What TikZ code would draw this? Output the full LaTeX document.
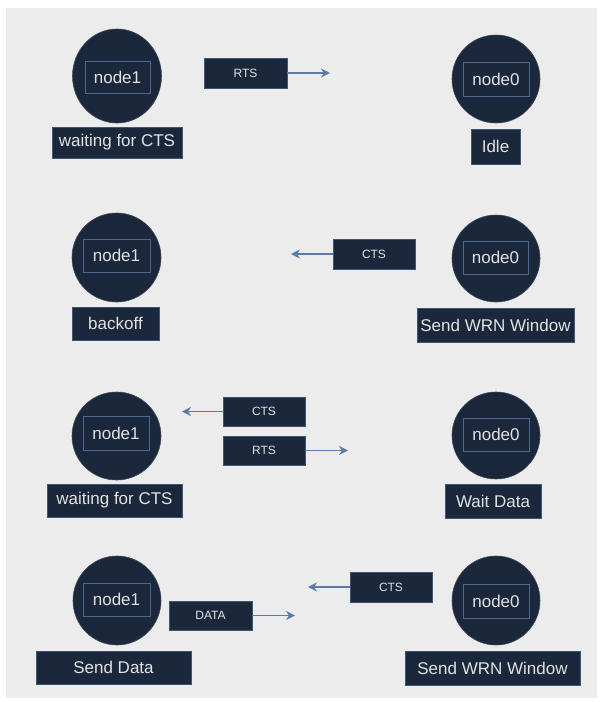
\documentclass[tikz,border=0pt]{standalone}
\usepackage{fontspec}
\setmainfont{Liberation Sans}
\usetikzlibrary{shapes.geometric,arrows.meta}

\definecolor{navy}{HTML}{1B283C}
\definecolor{navyedge}{HTML}{3E5677}
\definecolor{tagedge}{HTML}{4D6A8E}
\definecolor{arrowblue}{HTML}{5A7BA6}
\definecolor{paper}{HTML}{ECECEC}
\definecolor{ink}{HTML}{E2E2E2}

\tikzset{
  bubble/.style={ellipse, fill=navy, draw=navy!85!white, line width=0.6pt, inner sep=0pt},
  tag/.style={rectangle, draw=tagedge, line width=1pt, inner sep=0pt, text=ink,
              font=\fontsize{17}{20}\selectfont},
  statebox/.style={rectangle, fill=navy, draw=navyedge, line width=0.8pt, inner sep=0pt,
                   text=ink, font=\fontsize{17}{20}\selectfont},
  msgbox/.style={rectangle, fill=navy, draw=navyedge, line width=0.8pt, inner sep=0pt,
                 text=ink, font=\fontsize{12}{14}\selectfont},
  arr/.style={draw=arrowblue, line width=1.4pt, -{Stealth[length=9pt,width=9pt]}}
}

\begin{document}
\begin{tikzpicture}[x=1pt,y=-1pt]
\useasboundingbox (0,0) rectangle (601,702);
\fill[paper] (6,8) rectangle (597,698);

% ---- step 1: RTS from node1 to idle node0
\node[bubble, minimum width=89, minimum height=94] (c1a) at (117,76) {};
\node[tag, minimum width=65, minimum height=32] (i1a) at (117.5,77) {node1};
\node[statebox, minimum width=130, minimum height=31] (l1a) at (117,142.5) {waiting for CTS};
\node[msgbox, minimum width=83, minimum height=30] (rts1) at (245.5,73) {RTS};
\coordinate (rts1tip) at (330,73);
\draw[arr] (rts1.east) -- (rts1tip);
\node[bubble, minimum width=88, minimum height=88] (c0a) at (496,79) {};
\node[tag, minimum width=66, minimum height=34] (i0a) at (496,79) {node0};
\node[statebox, minimum width=49, minimum height=35] (l0a) at (495.5,146.5) {Idle};

% ---- step 2: CTS back, node1 backs off
\node[bubble, minimum width=89, minimum height=89] (c1b) at (116.5,257.5) {};
\node[tag, minimum width=67, minimum height=33] (i1b) at (116.5,255.5) {node1};
\node[statebox, minimum width=87, minimum height=33] (l1b) at (115.5,323.5) {backoff};
\node[msgbox, minimum width=82, minimum height=30] (cts2) at (374,254) {CTS};
\coordinate (cts2tip) at (291,254);
\draw[arr] (cts2.west) -- (cts2tip);
\node[bubble, minimum width=88, minimum height=87] (c0b) at (496,258.5) {};
\node[tag, minimum width=65, minimum height=33] (i0b) at (495.5,257.5) {node0};
\node[statebox, minimum width=157, minimum height=34] (l0b) at (495.5,325) {Send WRN Window};

% ---- step 3: CTS and RTS exchanged
\node[bubble, minimum width=89, minimum height=88] (c1c) at (116.5,436) {};
\node[tag, minimum width=66, minimum height=34] (i1c) at (116,433) {node1};
\node[statebox, minimum width=135, minimum height=33] (l1c) at (114.5,500.5) {waiting for CTS};
\node[msgbox, minimum width=82, minimum height=29] (cts3) at (264,411.5) {CTS};
\coordinate (cts3tip) at (182,411.5);
\draw[arr] (cts3.west) -- (cts3tip);
\node[msgbox, minimum width=82, minimum height=29] (rts3) at (264,450.5) {RTS};
\coordinate (rts3tip) at (348,450.5);
\draw[arr] (rts3.east) -- (rts3tip);
\node[bubble, minimum width=88, minimum height=87] (c0c) at (496,435.5) {};
\node[tag, minimum width=66, minimum height=33] (i0c) at (496,434.5) {node0};
\node[statebox, minimum width=96, minimum height=34] (l0c) at (493,501) {Wait Data};

% ---- step 4: DATA sent while CTS window is announced
\node[bubble, minimum width=88, minimum height=89] (c1d) at (117,600.5) {};
\node[tag, minimum width=67, minimum height=33] (i1d) at (116.5,599.5) {node1};
\node[statebox, minimum width=155, minimum height=33] (l1d) at (113.5,667.5) {Send Data};
\node[msgbox, minimum width=83, minimum height=29] (data4) at (210.5,615.5) {DATA};
\coordinate (data4tip) at (295,615.5);
\draw[arr] (data4.east) -- (data4tip);
\node[msgbox, minimum width=82, minimum height=30] (cts4) at (391,587) {CTS};
\coordinate (cts4tip) at (308,587);
\draw[arr] (cts4.west) -- (cts4tip);
\node[bubble, minimum width=88, minimum height=89] (c0d) at (496,600.5) {};
\node[tag, minimum width=66, minimum height=34] (i0d) at (496,601) {node0};
\node[statebox, minimum width=175, minimum height=34] (l0d) at (492.5,668) {Send WRN Window};
\end{tikzpicture}
\end{document}
